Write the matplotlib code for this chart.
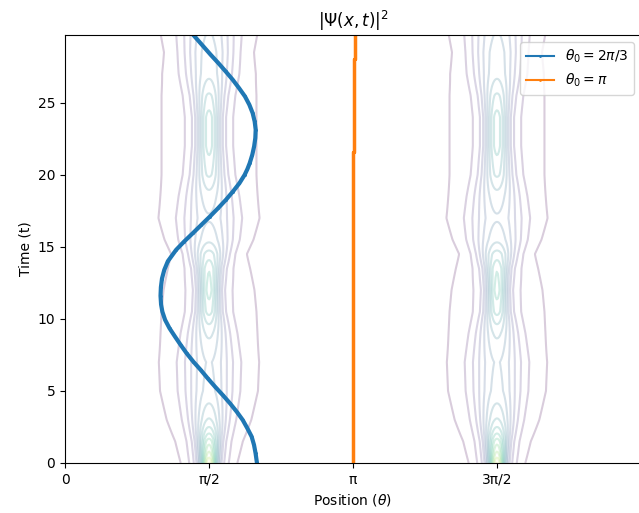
import numpy as np
import matplotlib
matplotlib.use("Agg")
import matplotlib.pyplot as plt

# classical trajectory theta0 = 2pi/3
t_blue = [0, 0.67, 1.25, 1.83, 2.41, 2.99, 3.56, 4.14, 4.72, 5.30, 5.88, 6.46,
          7.03, 7.61, 8.19, 8.77, 9.35, 9.93, 10.5, 11.0, 11.6, 12.2, 12.8,
          13.4, 14.0, 14.79, 15.37, 15.95, 16.53, 17.10, 17.69, 18.26, 18.84,
          19.42, 20.0, 20.4, 20.81, 21.39, 21.97, 22.55, 23.13, 23.70, 24.28,
          24.86, 25.44, 26.02, 26.60, 27.17, 27.75, 28.33, 28.91, 29.49, 29.7]
theta_blue = [2.094, 2.079, 2.062, 2.036, 1.989, 1.938, 1.873, 1.800, 1.720,
              1.636, 1.556, 1.480, 1.400, 1.327, 1.262, 1.200, 1.140, 1.092,
              1.062, 1.048, 1.042, 1.046, 1.058, 1.083, 1.122, 1.212, 1.300,
              1.395, 1.488, 1.580, 1.671, 1.755, 1.832, 1.903, 1.960, 1.990,
              2.015, 2.043, 2.063, 2.076, 2.080, 2.069, 2.047, 2.011, 1.963,
              1.898, 1.829, 1.753, 1.673, 1.589, 1.509, 1.429, 1.40]

# theta0 = pi stays (almost) at the unstable point
t_orange = [0, 21.6, 21.6, 28.0, 28.0, 29.7]
theta_orange = [np.pi, np.pi, np.pi + 0.011, np.pi + 0.011,
                np.pi + 0.025, np.pi + 0.025]

# wave packets: centres, core width and wing width
packet_centres = [np.pi / 2, 3 * np.pi / 2]
width_t = [0, 1.5, 3, 5, 7, 9, 10.5, 12, 13.5, 14.5, 15.5, 17, 18.5, 20, 22,
           24, 25.5, 27, 28.5, 30]
core_sigma = [0.06, 0.08, 0.12, 0.16, 0.17, 0.13, 0.09, 0.08, 0.09, 0.12,
              0.16, 0.18, 0.15, 0.11, 0.09, 0.09, 0.11, 0.15, 0.17, 0.18]
wing_sigma = [0.15, 0.19, 0.26, 0.32, 0.33, 0.32, 0.31, 0.29, 0.25, 0.22,
              0.27, 0.33, 0.32, 0.31, 0.31, 0.31, 0.31, 0.30, 0.27, 0.31]

x = np.linspace(0, 2 * np.pi, 500)
t = np.linspace(0, 29.7, 400)
X, T = np.meshgrid(x, t)
SC = np.interp(T, width_t, core_sigma)
SW = np.interp(T, width_t, wing_sigma)
rho = np.zeros_like(X)
for c in packet_centres:
    rho += 0.5 * np.exp(-(X - c) ** 2 / (2 * SC ** 2)) / SC
    rho += 0.5 * np.exp(-(X - c) ** 2 / (2 * SW ** 2)) / SW

fig = plt.figure(figsize=(6.39, 5.13), dpi=100)
ax = fig.add_axes([65 / 639, 50 / 513, 576 / 639, 428 / 513])

ax.contour(X, T, rho, levels=np.arange(0.4, 13, 0.8), cmap='viridis', alpha=0.2)

ax.plot(theta_blue, t_blue, marker='.', markersize=2, lw=3, label=r'$\theta_0 = 2\pi/3$')
ax.plot(theta_orange, t_orange, marker='.', markersize=2, lw=2.5, label=r'$\theta_0 = \pi$')

ax.set_xlim(0, 2 * np.pi)
ax.set_ylim(0, 29.7)
ax.set_xticks([0, np.pi / 2, np.pi, 3 * np.pi / 2])
ax.set_xticklabels(['0', 'π/2', 'π', '3π/2'])
ax.set_yticks([0, 5, 10, 15, 20, 25])
ax.set_title(r'$|\Psi(x,t)|^2$')
ax.set_xlabel(r'Position ($\theta$)')
ax.set_ylabel('Time (t)')
leg = ax.legend(loc='upper right')
for ln in leg.get_lines():
    ln.set_linewidth(1.5)

fig.savefig('out.png', dpi=100)
